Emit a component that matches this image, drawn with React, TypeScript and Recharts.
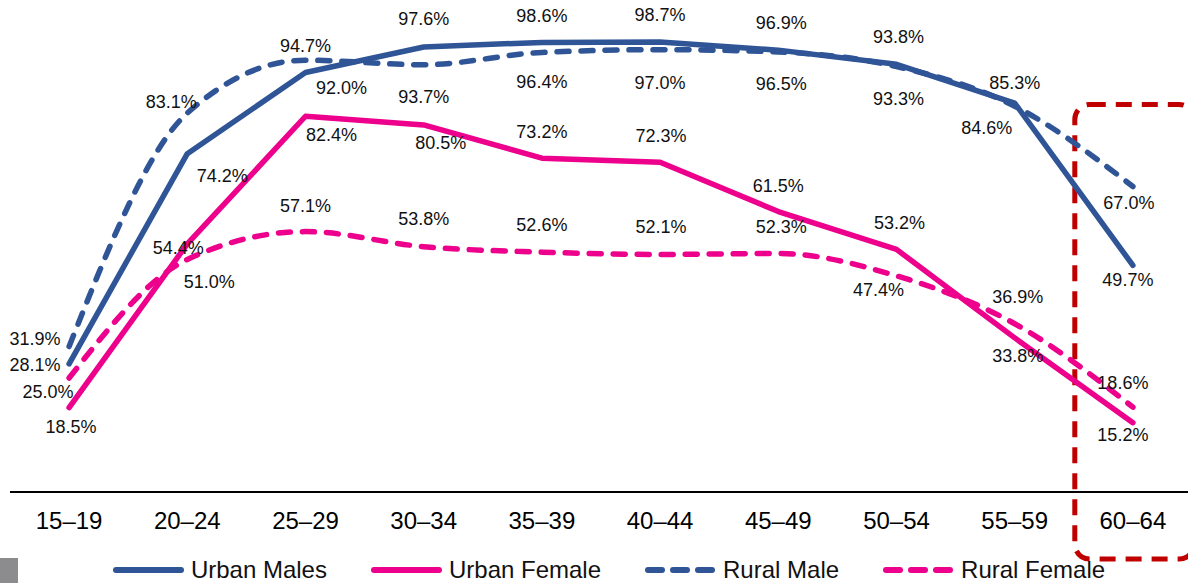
import React from 'react';
import { LineChart, Line, XAxis, YAxis, LabelList, ReferenceArea } from 'recharts';

const categories = ['15–19', '20–24', '25–29', '30–34', '35–39', '40–44', '45–49', '50–54', '55–59', '60–64'];
const urbanMales = [28.1, 74.2, 92.0, 97.6, 98.6, 98.7, 96.9, 93.8, 85.3, 49.7];
const urbanFemale = [18.5, 54.4, 82.4, 80.5, 73.2, 72.3, 61.5, 53.2, 33.8, 15.2];
const ruralMale = [31.9, 83.1, 94.7, 93.7, 96.4, 97.0, 96.5, 93.3, 84.6, 67.0];
const ruralFemale = [25.0, 51.0, 57.1, 53.8, 52.6, 52.1, 52.3, 47.4, 36.9, 18.6];

const data = categories.map((age, i) => ({
  age,
  urbanMales: urbanMales[i],
  urbanFemale: urbanFemale[i],
  ruralMale: ruralMale[i],
  ruralFemale: ruralFemale[i],
}));

// label placement (dx, dy) relative to each point
const urbanMalesLabelPos = [[-34, 1], [35, 22], [36, 16], [0, -28], [0, -26], [0, -27], [3, -27], [2, -27], [0, -20], [-5, 15]];
const ruralMaleLabelPos = [[-34, -8], [-16, -11], [0, -14], [0, 32], [0, 30], [0, 33], [3, 32], [2, 32], [-28, 22], [-4, 17]];
const urbanFemaleLabelPos = [[2, 19], [-9, 4], [26, 19], [17, 18], [0, -26], [1, -26], [0, -26], [3, -26], [3, 18], [-10, 12]];
const ruralFemaleLabelPos = [[-21, 14], [22, 23], [0, -26], [0, -28], [0, -27], [1, -27], [3, -27], [-18, 14], [3, -27], [-10, -24]];

const BLUE = '#2F5597';
const PINK = '#EC008C';
const FONT = '"Liberation Sans", Arial, sans-serif';

const makeLabel = (pos: number[][]) => (props: any) => {
  const { x, y, value, index } = props;
  const [dx, dy] = pos[index] || [0, -20];
  return (
    <text
      x={x + dx}
      y={y + dy}
      textAnchor="middle"
      dominantBaseline="central"
      fontSize={18}
      fontFamily={FONT}
      fill="#111"
    >
      {Number(value).toFixed(1)}%
    </text>
  );
};

const HighlightBox = (props: any) => {
  const { x, y, width, height } = props;
  return (
    <rect
      x={x + 1}
      y={y}
      width={width + 1}
      height={height + 67}
      rx={15}
      ry={15}
      fill="none"
      stroke="#C00000"
      strokeWidth={5}
      strokeDasharray="16 10"
    />
  );
};

const legendItems = [
  { name: 'Urban Males', color: BLUE, dashed: false },
  { name: 'Urban Female', color: PINK, dashed: false },
  { name: 'Rural Male', color: BLUE, dashed: true },
  { name: 'Rural Female', color: PINK, dashed: true },
];

export default function App() {
  return (
    <div style={{ position: 'absolute', left: 0, top: 0, width: 1188, height: 583, overflow: 'hidden', background: '#fff' }}>
      <LineChart width={1192} height={583} data={data} margin={{ top: 36, right: 0, left: 10, bottom: 51 }}>
        <XAxis
          dataKey="age"
          scale="band"
          interval={0}
          tickLine={false}
          axisLine={{ stroke: '#000', strokeWidth: 2 }}
          tick={{ fill: '#000', fontSize: 24, fontFamily: FONT }}
          tickMargin={14}
          height={40}
        />
        <YAxis hide domain={[0, 100]} />
        <Line
          type="monotone"
          dataKey="ruralFemale"
          stroke={PINK}
          strokeWidth={5.5}
          strokeDasharray="12 12"
          strokeLinecap="round"
          dot={false}
          isAnimationActive={false}
        >
          <LabelList dataKey="ruralFemale" content={makeLabel(ruralFemaleLabelPos)} />
        </Line>
        <Line
          type="monotone"
          dataKey="ruralMale"
          stroke={BLUE}
          strokeWidth={5.5}
          strokeDasharray="12 12"
          strokeLinecap="round"
          dot={false}
          isAnimationActive={false}
        >
          <LabelList dataKey="ruralMale" content={makeLabel(ruralMaleLabelPos)} />
        </Line>
        <Line
          type="linear"
          dataKey="urbanFemale"
          stroke={PINK}
          strokeWidth={5.5}
          strokeLinecap="round"
          strokeLinejoin="round"
          dot={false}
          isAnimationActive={false}
        >
          <LabelList dataKey="urbanFemale" content={makeLabel(urbanFemaleLabelPos)} />
        </Line>
        <Line
          type="linear"
          dataKey="urbanMales"
          stroke={BLUE}
          strokeWidth={5.5}
          strokeLinecap="round"
          strokeLinejoin="round"
          dot={false}
          isAnimationActive={false}
        >
          <LabelList dataKey="urbanMales" content={makeLabel(urbanMalesLabelPos)} />
        </Line>
        <ReferenceArea x1="60–64" x2="60–64" y1={85} y2={0} ifOverflow="visible" shape={HighlightBox} />
      </LineChart>
      <div
        style={{
          position: 'absolute',
          left: 0,
          top: 558,
          width: 1188,
          boxSizing: 'border-box',
          paddingLeft: 30,
          display: 'flex',
          justifyContent: 'center',
          alignItems: 'center',
          height: 24,
          fontFamily: FONT,
          fontSize: 24,
          lineHeight: '24px',
          color: '#111',
        }}
      >
        {legendItems.map((it, i) => (
          <div key={it.name} style={{ display: 'flex', alignItems: 'center', marginLeft: i === 0 ? 0 : 44 }}>
            <svg width={71} height={10} style={{ display: 'block', marginRight: 7 }}>
              <line
                x1={3}
                y1={5}
                x2={68}
                y2={5}
                stroke={it.color}
                strokeWidth={6}
                strokeLinecap="round"
                strokeDasharray={it.dashed ? '14 11' : undefined}
              />
            </svg>
            <span style={{ whiteSpace: 'nowrap' }}>{it.name}</span>
          </div>
        ))}
      </div>
      <div style={{ position: 'absolute', left: 0, top: 558, width: 18, height: 25, background: '#8C8C8E' }} />
    </div>
  );
}
